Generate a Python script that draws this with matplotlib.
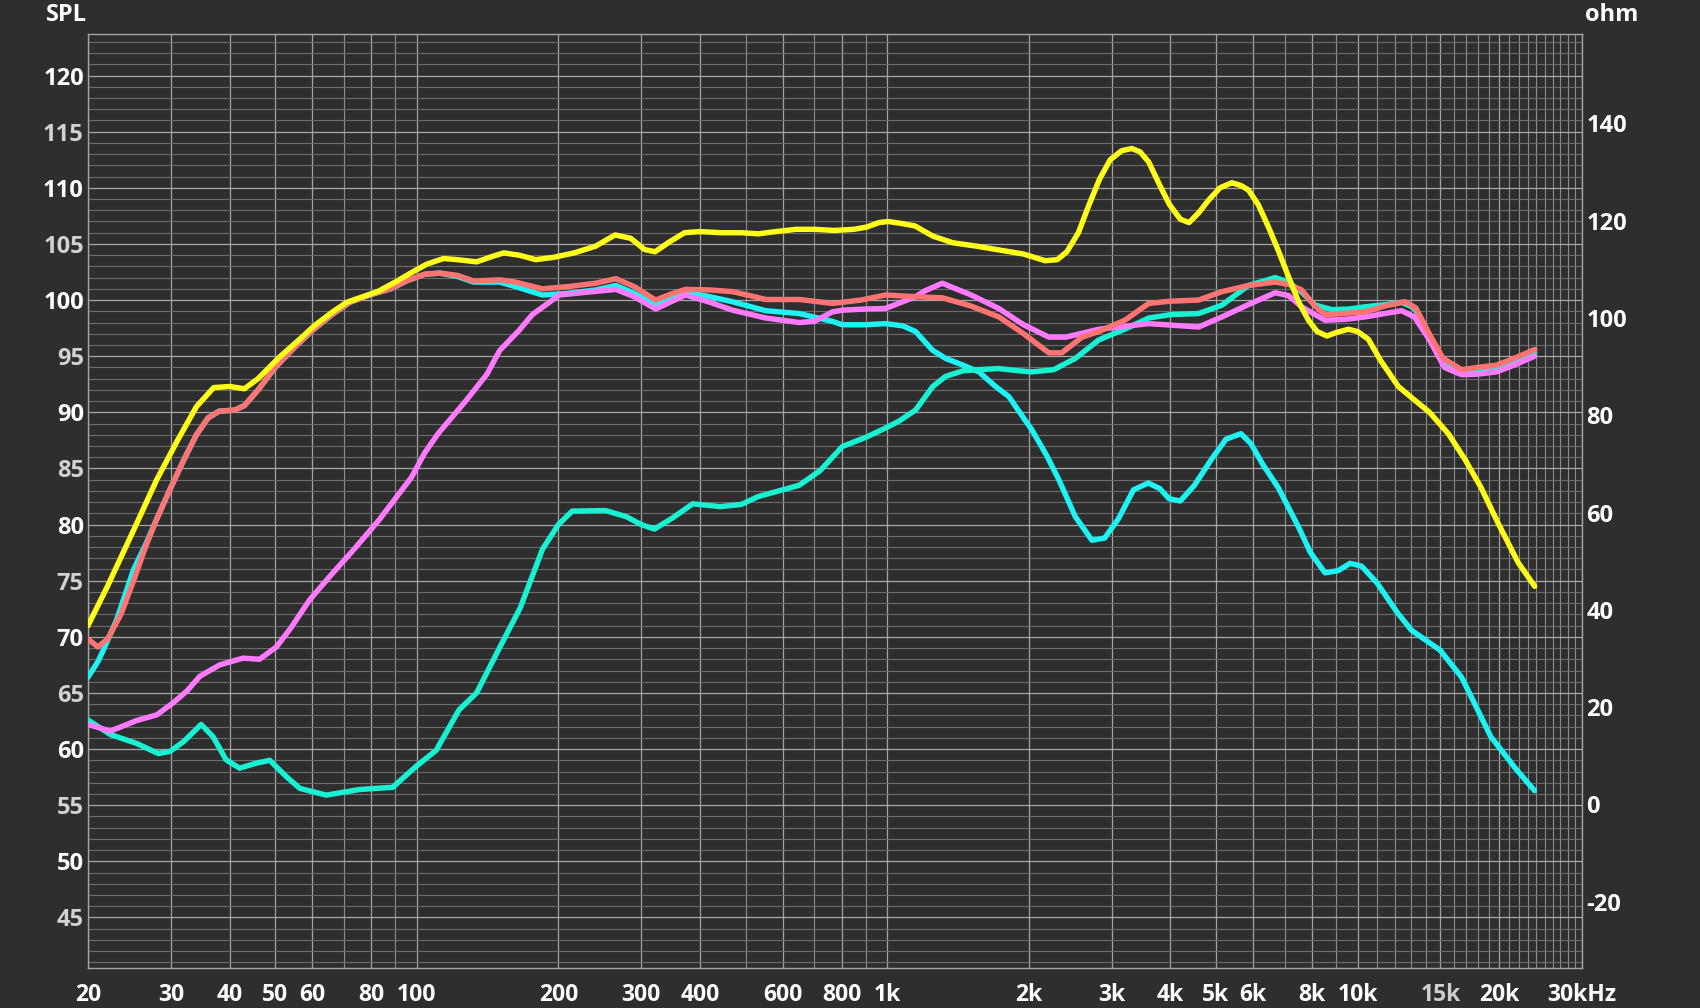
import matplotlib
matplotlib.use("Agg")
import matplotlib.pyplot as plt
from matplotlib.ticker import FixedLocator, NullFormatter

# ---------------- data ----------------
yellow_f = [20, 22, 25, 28, 31, 34, 37, 40, 43, 46, 51, 56, 60.5, 66, 71, 78, 83, 90, 97, 105,
            114, 122, 134, 145, 153, 165, 179, 195, 216, 240, 264, 285, 305, 321, 345, 371, 400,
            442, 490, 532, 580, 640, 700, 771, 850, 904, 960, 1005, 1080, 1146, 1250, 1380, 1550,
            1706, 1950, 2168, 2300, 2410, 2550, 2681, 2830, 2980, 3150, 3311, 3450, 3597, 3800,
            3983, 4200, 4383, 4600, 4822, 5100, 5405, 5650, 5862, 6150, 6466, 6800, 7130, 7500,
            7864, 8200, 8606, 9000, 9560, 10000, 10545, 11200, 12210, 13300, 14220, 15590, 16920,
            18300, 19910, 21960, 23800]
yellow_db = [71.0, 74.5, 79.5, 84.0, 87.5, 90.5, 92.2, 92.3, 92.1, 93.0, 94.9, 96.4, 97.7, 98.9,
             99.8, 100.4, 100.8, 101.6, 102.4, 103.2, 103.7, 103.6, 103.4, 103.9, 104.2, 104.0,
             103.6, 103.8, 104.2, 104.8, 105.8, 105.5, 104.5, 104.3, 105.2, 106.0, 106.1, 106.0,
             106.0, 105.9, 106.1, 106.3, 106.3, 106.2, 106.3, 106.5, 106.9, 107.0, 106.8, 106.6,
             105.7, 105.1, 104.8, 104.5, 104.1, 103.5, 103.6, 104.3, 106.0, 108.4, 110.8, 112.5,
             113.3, 113.5, 113.2, 112.3, 110.2, 108.5, 107.2, 106.9, 107.8, 108.9, 110.0, 110.45,
             110.2, 109.8, 108.5, 106.5, 104.3, 102.1, 99.8, 98.2, 97.2, 96.8, 97.1, 97.4, 97.2,
             96.5, 94.6, 92.3, 91.0, 90.0, 88.1, 85.8, 83.3, 80.1, 76.6, 74.5]

red_f = [20, 21, 22, 23.5, 25, 26.5, 28, 30, 32, 34, 36, 38, 41, 43, 46, 50, 55, 60, 66, 72, 80,
         88, 95, 104, 112, 122, 132, 150, 162, 185, 210, 240, 265, 290, 322, 345, 373, 420, 469,
         510, 552, 650, 765, 880, 992, 1149, 1310, 1500, 1727, 1950, 2206, 2350, 2597, 2817, 3200,
         3597, 4000, 4593, 5149, 5862, 6681, 7130, 7605, 8100, 8530, 9300, 10380, 11500, 12616,
         13300, 14200, 15200, 16640, 18000, 19730, 21500, 23815]
red_db = [69.8, 69.1, 69.8, 72.0, 75.0, 78.0, 80.5, 83.3, 85.8, 88.0, 89.5, 90.1, 90.2, 90.6, 92.0,
          94.0, 95.8, 97.3, 98.7, 99.8, 100.5, 101.0, 101.7, 102.3, 102.4, 102.2, 101.7, 101.8,
          101.6, 101.0, 101.2, 101.5, 101.9, 101.2, 100.0, 100.5, 100.95, 100.9, 100.75, 100.4,
          100.05, 100.05, 99.7, 100.0, 100.45, 100.3, 100.2, 99.5, 98.5, 97.0, 95.3, 95.3, 96.7,
          97.2, 98.2, 99.7, 99.9, 100.0, 100.75, 101.3, 101.6, 101.4, 100.9, 99.5, 98.7, 98.8,
          98.95, 99.5, 99.85, 99.3, 97.0, 94.8, 93.8, 94.0, 94.2, 94.8, 95.6]

cyan_f = [20, 21, 21.55, 23, 25, 26.5, 28, 30, 32, 34, 36, 38, 41, 43, 46, 50, 55, 60, 66, 72, 80,
          88, 95, 104, 112, 122, 132, 150, 162, 185, 210, 240, 265, 290, 322, 345, 373, 420, 469,
          552, 650, 765, 803, 900, 992, 1080, 1149, 1247, 1331, 1450, 1567, 1700, 1814, 2033, 2180,
          2317, 2512, 2725, 2900, 3100, 3340, 3590, 3800, 3976, 4200, 4500, 4870, 5250, 5650, 5935,
          6300, 6780, 7486, 7942, 8530, 9100, 9640, 10200, 11000, 12130, 13010, 14990, 16640, 18000,
          19200, 21740, 23780]
cyan_db = [66.4, 67.8, 68.8, 71.5, 76.0, 78.2, 80.5, 83.3, 85.8, 88.0, 89.5, 90.1, 90.2, 90.6, 92.0,
           94.0, 95.8, 97.3, 98.7, 99.8, 100.5, 101.0, 101.7, 102.3, 102.4, 102.1, 101.6, 101.6,
           101.2, 100.45, 100.6, 100.9, 101.3, 100.6, 99.55, 100.1, 100.7, 100.3, 99.85, 99.05,
           98.8, 98.1, 97.8, 97.8, 97.9, 97.7, 97.2, 95.55, 94.8, 94.2, 93.6, 92.3, 91.4, 88.4, 86.2,
           84.0, 80.7, 78.6, 78.8, 80.5, 83.1, 83.7, 83.2, 82.3, 82.1, 83.5, 85.7, 87.6, 88.1, 87.2,
           85.3, 83.3, 79.8, 77.5, 75.7, 75.9, 76.55, 76.3, 74.8, 72.2, 70.6, 68.8, 66.4, 63.5,
           61.1, 58.2, 56.3]

teal_f = [20, 22.3, 25.4, 28.2, 29.9, 32, 34.8, 36.9, 39.3, 42, 45.6, 48.7, 52.8, 56.4, 64.2, 75.6,
          88.9, 99.6, 110, 123, 134, 149, 166, 185, 200, 214, 252, 279, 300, 320, 350, 386, 442,
          490, 532, 600, 650, 720, 803, 904, 992, 1058, 1149, 1250, 1331, 1450, 1567, 1727, 1900,
          2033, 2260, 2512, 2817, 3200, 3597, 4000, 4593, 5149, 5862, 6681, 7130, 7605, 8125, 8815,
          9600, 10380, 11500, 12400, 13200, 14200, 15300, 16640, 18000, 19730, 21500, 23800]
teal_db = [62.6, 61.3, 60.5, 59.6, 59.8, 60.7, 62.2, 61.1, 59.05, 58.3, 58.75, 59.0, 57.55, 56.5,
           55.9, 56.4, 56.6, 58.45, 59.9, 63.5, 65.0, 68.8, 72.6, 77.8, 80.0, 81.2, 81.25, 80.7,
           80.0, 79.6, 80.6, 81.85, 81.6, 81.8, 82.5, 83.1, 83.5, 84.8, 86.95, 87.8, 88.6, 89.2,
           90.2, 92.3, 93.2, 93.7, 93.8, 93.9, 93.7, 93.6, 93.8, 94.8, 96.45, 97.4, 98.4, 98.7,
           98.8, 99.55, 101.3, 102.0, 101.6, 100.7, 99.55, 99.15, 99.2, 99.4, 99.6, 99.8, 99.3,
           96.8, 94.4, 93.6, 93.7, 94.0, 94.5, 95.3]

magenta_f = [20, 22.3, 25.4, 28, 30.3, 32.5, 34.6, 38.1, 42.7, 46.3, 50.3, 54, 59.2, 66, 73.2, 83.1,
             97.4, 104, 111, 127, 141, 150, 165, 176, 201, 230, 265, 290, 322, 345, 373, 420, 469,
             552, 650, 700, 765, 803, 900, 992, 1149, 1200, 1310, 1400, 1500, 1727, 1950, 2206,
             2400, 2817, 3597, 4593, 5149, 5862, 6681, 7130, 7605, 8530, 9500, 10380, 12400, 13200,
             14200, 15300, 16640, 18000, 19730, 21500, 23800]
magenta_db = [62.2, 61.6, 62.55, 63.05, 64.1, 65.2, 66.5, 67.5, 68.1, 68.0, 69.1, 70.8, 73.3, 75.6,
              77.7, 80.4, 84.2, 86.4, 88.1, 91.0, 93.4, 95.5, 97.3, 98.7, 100.45, 100.7, 100.95,
              100.3, 99.2, 99.8, 100.45, 99.8, 99.1, 98.4, 98.0, 98.1, 98.95, 99.1, 99.2, 99.25,
              100.3, 100.8, 101.5, 101.0, 100.5, 99.25, 97.8, 96.7, 96.7, 97.4, 97.9, 97.6, 98.5,
              99.6, 100.65, 100.4, 99.4, 98.2, 98.3, 98.5, 99.05, 98.5, 96.5, 94.0, 93.35, 93.4,
              93.6, 94.2, 95.0]

x_major = [20, 30, 40, 50, 60, 80, 100, 200, 300, 400, 600, 800, 1000, 2000, 3000, 4000, 5000,
           6000, 8000, 10000, 15000, 20000, 30000]
x_labels = ['20', '30', '40', '50', '60', '80', '100', '200', '300', '400', '600', '800', '1k',
            '2k', '3k', '4k', '5k', '6k', '8k', '10k', '15k', '20k', '30kHz']
x_minor = [70, 90, 500, 700, 900, 7000, 9000, 11000, 12000, 13000, 14000, 16000, 17000, 18000,
           19000, 21000, 22000, 23000, 24000, 25000, 26000, 27000, 28000, 29000]
spl_ticks = list(range(45, 121, 5))
ohm_ticks = list(range(-20, 141, 20))

# ---------------- style ----------------
BG = '#2e2e2e'
FONT = ['Open Sans', 'DejaVu Sans']
plt.rcParams['font.family'] = FONT

fig = plt.figure(figsize=(17, 10.08), dpi=100, facecolor=BG)
ax = fig.add_axes([88 / 1700, 1 - 968 / 1008, (1582 - 88) / 1700, (968 - 34) / 1008])
ax.set_facecolor(BG)
ax.set_xscale('log')
ax.set_xlim(20, 30000)
ax.set_ylim(40.5, 123.7)

ax.xaxis.set_major_locator(FixedLocator(x_major))
ax.xaxis.set_minor_locator(FixedLocator(x_minor))
ax.xaxis.set_minor_formatter(NullFormatter())
ax.set_xticklabels(x_labels)
ax.yaxis.set_major_locator(FixedLocator(spl_ticks))
ax.yaxis.set_minor_locator(FixedLocator([v for v in range(41, 124) if v % 5]))
ax.set_yticklabels([str(v) for v in spl_ticks])

ax.grid(which='major', axis='x', color='#a4a4a4', lw=0.9)
ax.grid(which='minor', axis='x', color='#8c8c8c', lw=0.8)
ax.grid(which='major', axis='y', color='#a8a8a8', lw=0.9)
ax.grid(which='minor', axis='y', color='#6c6c6c', lw=0.8)
ax.set_axisbelow(True)

ax.tick_params(which='both', length=0)
ax.tick_params(axis='x', pad=11, labelsize=16.5, labelcolor='white')
ax.tick_params(axis='y', pad=3, labelsize=17, labelcolor='white')
for t in ax.get_xticklabels():
    t.set_fontweight('bold')
    if t.get_text() == '15k':
        t.set_color('#cfcfcf')
for t, v in zip(ax.get_yticklabels(), spl_ticks):
    t.set_fontweight('bold')
    t.set_color('white' if v % 10 == 0 else '#d2d2d2')
for s in ax.spines.values():
    s.set_color('#a4a4a4')
    s.set_linewidth(1.0)

lw = 3.9
kw = dict(lw=lw, solid_capstyle='round', solid_joinstyle='round')
ax.plot(cyan_f, cyan_db, color='#1ff2f2', zorder=3, **kw)
ax.plot(teal_f, teal_db, color='#19f2d2', zorder=3, **kw)
ax.plot(magenta_f, magenta_db, color='#ff7aff', zorder=4, **kw)
ax.plot(red_f, red_db, color='#ff7373', zorder=5, **kw)
ax.plot(yellow_f, yellow_db, color='#ffff1a', zorder=6, **kw)

ax2 = ax.twinx()
ax2.set_ylim(-33.63, 158.36)
ax2.set_yticks(ohm_ticks)
ax2.set_yticklabels([str(v) for v in ohm_ticks])
ax2.tick_params(length=0, pad=3, labelsize=17, labelcolor='white')
for t in ax2.get_yticklabels():
    t.set_fontweight('bold')
for s in ax2.spines.values():
    s.set_visible(False)

fig.text(46 / 1700, 1 - 15 / 1008, 'SPL', color='white', fontsize=17, fontweight='bold',
         ha='left', va='center')
fig.text(1585 / 1700, 1 - 15 / 1008, 'ohm', color='white', fontsize=17, fontweight='bold',
         ha='left', va='center')

fig.savefig('out.png', dpi=100, facecolor=BG)
